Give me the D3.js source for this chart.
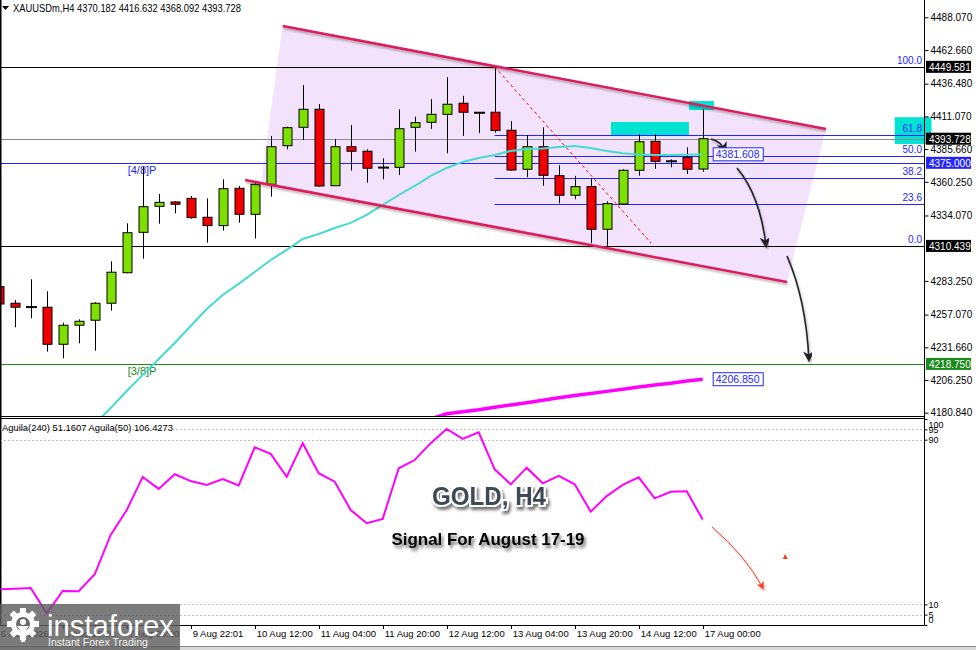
<!DOCTYPE html>
<html>
<head>
<meta charset="utf-8">
<script src="https://cdn.jsdelivr.net/npm/d3@7"></script>
<style>
  body { margin: 0; background: #fff; }
  svg { display: block; font-family: "Liberation Sans", Arial, sans-serif; }
</style>
</head>
<body>
<svg id="chart"></svg>
<script>
const W = 976, H = 650;

// H4 bars, index -1 .. 43 (last bar = 17 Aug 00:00)
const bars = d3.range(-1, 44);
const opens  = [4278.8, 4265.9, 4263.2, 4262.8, 4234.0, 4248.8, 4252.7, 4265.9, 4289.6, 4321.0,
                4341.2, 4344.6, 4347.4, 4332.7, 4326.2, 4355.2, 4335.0, 4358.3, 4388.3, 4402.6,
                4416.6, 4357.2, 4387.5, 4384.0, 4371.0, 4371.5, 4402.6, 4406.5, 4412.7, 4421.3,
                4414.2, 4414.3, 4400.3, 4370.0, 4387.5, 4365.0, 4349.8, 4356.5, 4323.4, 4343.0,
                4369.2, 4391.7, 4375.9, 4379.3, 4370.182];
const highs  = [4281.6, 4268.4, 4284.5, 4275.2, 4250.8, 4253.4, 4266.6, 4298.5, 4328.0, 4372.0,
                4350.8, 4345.3, 4349.2, 4347.4, 4362.2, 4357.0, 4359.5, 4395.9, 4403.1, 4435.5,
                4420.7, 4393.5, 4404.4, 4385.5, 4378.5, 4416.6, 4410.9, 4424.6, 4441.5, 4427.0,
                4414.4, 4449.581, 4407.5, 4396.4, 4402.6, 4373.1, 4364.8, 4363.0, 4345.1, 4370.2,
                4397.4, 4397.4, 4377.7, 4387.1, 4416.632];
const lows   = [4260.7, 4247.2, 4254.2, 4228.3, 4223.1, 4234.8, 4229.0, 4260.1, 4289.2, 4300.5,
                4327.7, 4335.8, 4331.6, 4313.0, 4322.3, 4328.5, 4316.2, 4348.7, 4385.5, 4392.7,
                4356.5, 4357.0, 4368.9, 4359.6, 4362.2, 4365.5, 4383.7, 4401.3, 4382.4, 4395.9,
                4398.0, 4398.4, 4368.9, 4363.8, 4357.2, 4343.5, 4346.7, 4312.5, 4310.439, 4342.2,
                4365.0, 4370.4, 4371.5, 4366.3, 4368.092];
const closes = [4265.3, 4262.8, 4262.9, 4234.0, 4248.8, 4251.9, 4265.9, 4290.0, 4320.7, 4340.9,
                4344.3, 4342.8, 4332.4, 4326.2, 4354.9, 4335.0, 4358.3, 4387.5, 4402.3, 4416.6,
                4357.0, 4387.5, 4384.0, 4370.8, 4371.3, 4401.5, 4406.2, 4412.7, 4420.5, 4414.3,
                4413.9, 4400.1, 4369.4, 4387.5, 4365.3, 4349.8, 4356.5, 4323.4, 4343.3, 4369.2,
                4391.4, 4376.2, 4376.2, 4370.0, 4393.728];

// moving averages (null = not on screen)
const cyanMA = [null, null, null, null, null, null, 4172.0, 4184.5, 4197.7, 4210.2,
                4222.6, 4235.0, 4248.2, 4261.4, 4272.3, 4280.9, 4290.2, 4299.5, 4307.3, 4315.8,
                4319.7, 4324.4, 4328.3, 4334.5, 4342.3, 4350.0, 4357.0, 4364.8, 4371.0, 4375.7,
                4378.8, 4381.1, 4384.2, 4385.7, 4386.1, 4387.3, 4388.1, 4386.5, 4384.2, 4382.4,
                4381.4, 4381.1, 4381.0, 4381.3, 4381.608];
const slowMA = [null, null, null, null, null, null, null, null, null, null,
                null, null, null, null, null, null, null, null, null, null,
                null, null, null, null, null, null, 4174.6, 4176.0, 4180.0, 4181.6,
                4183.1, 4185.0, 4186.9, 4188.6, 4190.5, 4192.5, 4194.2, 4195.8, 4197.4, 4199.1,
                4200.8, 4202.3, 4203.8, 4205.4, 4206.85];

// Aguila(240) oscillator
const aguila = [17.3, 17.6, 17.9, 5.6, 16.5, 16.4, 24.6, 43.7, 55.8, 71.9,
                66.1, 73.2, 69.9, 68.0, 70.9, 67.8, 86.3, 83.1, 72.0, 88.3,
                73.7, 69.6, 55.8, 49.4, 51.5, 76.1, 80.1, 88.3, 95.2, 90.4,
                93.6, 75.6, 68.3, 76.4, 68.8, 72.4, 68.3, 55.0, 62.6, 68.0,
                71.7, 61.5, 64.7, 64.9, 51.16];

// axes
const priceTicks = [4488.070, 4462.660, 4436.480, 4411.070, 4385.660, 4360.250, 4334.070,
                    4283.250, 4257.070, 4231.660, 4206.250, 4180.840];
const indTicks = [100, 95, 90, 10, 5, 0];
const indGrid = [95, 90, 10, 5];
const timeBars = [-1, 3, 7, 11, 15, 19, 23, 27, 31, 35, 39, 43];
const timeLabels = ["6 Aug 2026", "6 Aug 16:00", "7 Aug 08:00", "9 Aug 22:01", "10 Aug 12:00",
                    "11 Aug 04:00", "11 Aug 20:00", "12 Aug 12:00", "13 Aug 04:00", "13 Aug 20:00",
                    "14 Aug 12:00", "17 Aug 00:00"];

// horizontal levels
const levelPrices = [4449.581, 4393.728, 4375.000, 4310.439, 4218.750];
const levelColors = ["#000000", "#8c8c8c", "#2424ff", "#000000", "#1a8a1a"];
const levelBoxColors = ["#000000", "#000000", "#2424ff", "#000000", "#1a8a1a"];

// fibonacci from the 12 Aug high to the 13 Aug low
const fibHigh = 4449.581, fibLow = 4310.439, fibStartBar = 30;
const fibLevels = [100, 61.8, 50, 38.2, 23.6, 0];

// channel and annotations, as [bar, price]
const channelUpper = [[16.75, 4481.3], [50.7, 4401.3]];
const channelLower = [[14.4, 4361.6], [48.27, 4282.4]];
const channelFill = [[16.75, 4481.3], [50.7, 4401.3], [48.27, 4282.4], [15.39, 4359.3]];
const fibTrend = [[30, 4449.581], [39.77, 4312.7]];
const zones = [[37.27, 42.14, 4406.7, 4395.8], [42.14, 43.7, 4423.0, 4416.0], [55.0, 57.3, 4410.4, 4389.6]];
const arrows = [
  [[43.52, 4393.5], [44.14, 4391.9], [44.39, 4384.0]],
  [[45.14, 4371.0], [46.58, 4350.0], [46.96, 4310.4]],
  [[48.27, 4302.6], [49.46, 4268.4], [49.64, 4221.8]]
];
const indArrow = [[43.58, 47.6], [45.64, 34.0], [46.77, 17.9]];
const indMark = [48.14, 33.0];

const x = d3.scaleLinear().domain([-1, 43]).range([-1.3, 702.7]);
const y = d3.scaleLinear().domain([4180.84, 4488.07]).range([412.7, 17.3]);
const yInd = d3.scaleLinear().domain([0, 100]).range([624.9, 419.1]);
const axisX = 924;

const svg = d3.select("#chart").attr("width", W).attr("height", H);
const defs = svg.append("defs");
defs.append("clipPath").attr("id", "clipMain")
  .append("rect").attr("x", 1).attr("y", 0).attr("width", axisX - 1).attr("height", 416);
defs.append("clipPath").attr("id", "clipInd")
  .append("rect").attr("x", 1).attr("y", 419).attr("width", axisX - 1).attr("height", 206);

const shadow = defs.append("filter").attr("id", "shadow")
  .attr("x", "-10%").attr("y", "-30%").attr("width", "120%").attr("height", "180%");
shadow.append("feDropShadow").attr("dx", 1).attr("dy", 2).attr("stdDeviation", 1.2)
  .attr("flood-color", "#000").attr("flood-opacity", 0.3);
const tshadow = defs.append("filter").attr("id", "tshadow")
  .attr("x", "-10%").attr("y", "-30%").attr("width", "130%").attr("height", "190%");
tshadow.append("feDropShadow").attr("dx", 2).attr("dy", 3).attr("stdDeviation", 1.5)
  .attr("flood-color", "#000").attr("flood-opacity", 0.55);

function marker(id, color, size) {
  defs.append("marker").attr("id", id)
    .attr("viewBox", "0 0 10 10").attr("refX", 8).attr("refY", 5)
    .attr("markerWidth", size).attr("markerHeight", size)
    .attr("markerUnits", "userSpaceOnUse").attr("orient", "auto")
    .append("path").attr("d", "M0,0 L10,5 L0,10 L3,5 z").attr("fill", color);
}
marker("headBlack", "#222", 11);
marker("headRed", "#ff3b1f", 8);

// cyan zone that sits over the price scale (drawn first, lines and labels go over it)
svg.append("rect").attr("x", x(zones[2][0])).attr("width", x(zones[2][1]) - x(zones[2][0]))
  .attr("y", y(zones[2][2])).attr("height", y(zones[2][3]) - y(zones[2][2]))
  .attr("fill", "#00e2d2");

// ---------- main panel ----------
const main = svg.append("g").attr("clip-path", "url(#clipMain)");

// channel fill
main.append("path")
  .attr("d", d3.line().x(d => x(d[0])).y(d => y(d[1]))(channelFill) + "Z")
  .attr("fill", "#f3e2fb");

// cyan zones
main.selectAll(".zone").data(zones.slice(0, 2)).enter().append("rect")
  .attr("x", d => x(d[0])).attr("width", d => x(d[1]) - x(d[0]))
  .attr("y", d => y(d[2])).attr("height", d => y(d[3]) - y(d[2]))
  .attr("fill", "#00e2d2");

// horizontal levels
main.selectAll(".level").data(levelPrices).enter().append("line")
  .attr("x1", 0).attr("x2", axisX)
  .attr("y1", d => Math.round(y(d)) + 0.5).attr("y2", d => Math.round(y(d)) + 0.5)
  .attr("stroke", (d, i) => levelColors[i]).attr("stroke-width", 1);

// fib levels
const fibPrice = l => fibLow + (fibHigh - fibLow) * l / 100;
main.selectAll(".fib").data(fibLevels.filter(l => l !== 0 && l !== 100)).enter().append("line")
  .attr("x1", x(fibStartBar)).attr("x2", axisX)
  .attr("y1", d => Math.round(y(fibPrice(d))) + 0.5).attr("y2", d => Math.round(y(fibPrice(d))) + 0.5)
  .attr("stroke", "#2424ff").attr("stroke-width", 1);
main.selectAll(".fibLabel").data(fibLevels).enter().append("text")
  .attr("x", axisX - 2).attr("y", d => y(fibPrice(d)) - 3)
  .attr("text-anchor", "end").attr("font-size", 10).attr("fill", "#2424ff")
  .text(d => d.toFixed(1));

// Murrey labels
main.append("text").attr("x", x(7) + 1).attr("y", y(4375.0) + 11)
  .attr("font-size", 11).attr("fill", "#2424ff").text("[4/8]P");
main.append("text").attr("x", x(7) + 1).attr("y", y(4218.75) + 11)
  .attr("font-size", 11).attr("fill", "#1a8a1a").text("[3/8]P");

// candles
const candles = bars.map((b, i) => ({ b, o: opens[i], h: highs[i], l: lows[i], c: closes[i] }));
const cg = main.append("g");
cg.selectAll(".wick").data(candles).enter().append("line")
  .attr("x1", d => Math.round(x(d.b)) + 0.5).attr("x2", d => Math.round(x(d.b)) + 0.5)
  .attr("y1", d => y(d.h)).attr("y2", d => y(d.l))
  .attr("stroke", "#000").attr("stroke-width", 1);
cg.selectAll(".body").data(candles.filter(d => Math.abs(d.o - d.c) >= 0.8)).enter().append("rect")
  .attr("x", d => Math.round(x(d.b)) - 4).attr("width", 9)
  .attr("y", d => y(Math.max(d.o, d.c))).attr("height", d => y(Math.min(d.o, d.c)) - y(Math.max(d.o, d.c)))
  .attr("fill", d => d.c > d.o ? "#7ee000" : "#f00000")
  .attr("stroke", "#000").attr("stroke-width", 1);
cg.selectAll(".doji").data(candles.filter(d => Math.abs(d.o - d.c) < 0.8)).enter().append("line")
  .attr("x1", d => Math.round(x(d.b)) - 5).attr("x2", d => Math.round(x(d.b)) + 6)
  .attr("y1", d => y(d.c)).attr("y2", d => y(d.c))
  .attr("stroke", "#000").attr("stroke-width", 2);

// moving averages
const maLine = d3.line().defined(d => d[1] !== null).x(d => x(d[0])).y(d => y(d[1]));
main.append("path").datum(bars.map((b, i) => [b, cyanMA[i]]))
  .attr("d", maLine).attr("fill", "none").attr("stroke", "#45dad2").attr("stroke-width", 2);
main.append("path").datum(bars.map((b, i) => [b, slowMA[i]]))
  .attr("d", maLine).attr("fill", "none").attr("stroke", "#ff00ff").attr("stroke-width", 3.5);

// channel lines
const pLine = d3.line().x(d => x(d[0])).y(d => y(d[1]));
[channelUpper, channelLower].forEach(seg => {
  main.append("path").attr("d", pLine(seg))
    .attr("stroke", "#dc1f5c").attr("stroke-width", 2.5).attr("fill", "none")
    .attr("filter", "url(#shadow)");
});
main.append("path").attr("d", pLine(fibTrend))
  .attr("stroke", "#ff0000").attr("stroke-width", 1).attr("stroke-dasharray", "3,3").attr("fill", "none");

// arrows
function curve(pts, sx, sy) {
  const p = d3.path();
  p.moveTo(sx(pts[0][0]), sy(pts[0][1]));
  p.quadraticCurveTo(sx(pts[1][0]), sy(pts[1][1]), sx(pts[2][0]), sy(pts[2][1]));
  return p.toString();
}
arrows.forEach(a => {
  main.append("path").attr("d", curve(a, x, y))
    .attr("stroke", "#222").attr("stroke-width", 1.6).attr("fill", "none")
    .attr("marker-end", "url(#headBlack)").attr("filter", "url(#shadow)");
});

// value tags for MAs
[[cyanMA[cyanMA.length - 1], "4381.608"], [slowMA[slowMA.length - 1], "4206.850"]].forEach(t => {
  const g = main.append("g").attr("transform", `translate(${x(43) + 10},${y(t[0])})`);
  g.append("rect").attr("x", 0.5).attr("y", -6.5).attr("width", 50).attr("height", 13)
    .attr("fill", "#fff").attr("stroke", "#2424ff");
  g.append("text").attr("x", 3).attr("y", 4).attr("font-size", 10.5).attr("fill", "#2424ff").text(t[1]);
});

// header
svg.append("path").attr("d", "M2,6 L9,6 L5.5,10 Z").attr("fill", "#000");
svg.append("text").attr("x", 13).attr("y", 12).attr("font-size", 10.5)
  .attr("textLength", 228).attr("lengthAdjust", "spacingAndGlyphs")
  .text("XAUUSDm,H4  4370.182 4416.632 4368.092 4393.728");

// price axis
const yAxis = svg.append("g").attr("transform", `translate(${axisX + 0.5},0)`)
  .call(d3.axisRight(y).tickValues(priceTicks).tickFormat(d3.format(".3f")).tickSize(4).tickPadding(2));
yAxis.select(".domain").remove();
yAxis.selectAll("text").attr("font-size", 10).attr("font-family", "Liberation Sans, Arial, sans-serif");
yAxis.selectAll("line").attr("stroke", "#000");

const tags = svg.selectAll(".tag").data(levelPrices).enter().append("g")
  .attr("transform", d => `translate(${axisX + 2},${y(d)})`);
tags.append("rect").attr("x", 0).attr("y", -6).attr("width", 45).attr("height", 12)
  .attr("fill", (d, i) => levelBoxColors[i]);
tags.append("text").attr("x", 3).attr("y", 4).attr("font-size", 10).attr("fill", "#fff")
  .text(d => d.toFixed(3));

// panel frames
svg.append("line").attr("x1", 0.5).attr("x2", 0.5).attr("y1", 0).attr("y2", 625).attr("stroke", "#000").attr("stroke-width", 2);
svg.append("line").attr("x1", axisX + 0.5).attr("x2", axisX + 0.5).attr("y1", 0).attr("y2", 625.5).attr("stroke", "#000");
svg.append("line").attr("x1", 0).attr("x2", axisX).attr("y1", 416.5).attr("y2", 416.5).attr("stroke", "#000");
svg.append("line").attr("x1", 0).attr("x2", axisX).attr("y1", 418.5).attr("y2", 418.5).attr("stroke", "#000");
svg.append("line").attr("x1", 0).attr("x2", axisX).attr("y1", 625.5).attr("y2", 625.5).attr("stroke", "#000");

// ---------- indicator panel ----------
const ind = svg.append("g").attr("clip-path", "url(#clipInd)");
ind.selectAll(".grid").data(indGrid).enter().append("line")
  .attr("x1", 0).attr("x2", axisX)
  .attr("y1", d => Math.round(yInd(d)) + 0.5).attr("y2", d => Math.round(yInd(d)) + 0.5)
  .attr("stroke", "#c4c4c4").attr("stroke-dasharray", "2,2");
ind.append("path").datum(bars.map((b, i) => [b, aguila[i]]))
  .attr("d", d3.line().x(d => x(d[0])).y(d => yInd(d[1])))
  .attr("fill", "none").attr("stroke", "#ff00ff").attr("stroke-width", 2);
ind.append("path").attr("d", curve(indArrow, x, yInd))
  .attr("stroke", "#ff3b1f").attr("stroke-width", 1).attr("fill", "none")
  .attr("marker-end", "url(#headRed)").attr("filter", "url(#shadow)");
ind.append("path")
  .attr("d", `M${x(indMark[0])},${yInd(indMark[1]) - 3} l3,5 l-5,0 z`)
  .attr("fill", "#ff3b1f");
ind.append("text").attr("x", 2).attr("y", 431).attr("font-size", 9.5)
  .attr("textLength", 171).attr("lengthAdjust", "spacingAndGlyphs")
  .text("Aguila(240) 51.1607  Aguila(50) 106.4273");

const iAxis = svg.append("g").attr("transform", `translate(${axisX + 0.5},0)`)
  .call(d3.axisRight(yInd).tickValues(indTicks).tickSize(3).tickPadding(1));
iAxis.select(".domain").remove();
iAxis.selectAll("text").attr("font-size", 9).attr("font-family", "Liberation Sans, Arial, sans-serif")
  .attr("dy", d => d === 100 ? "0.9em" : d === 0 ? "-0.3em" : "0.32em");
iAxis.selectAll("line").attr("stroke", "#000");

// title texts
svg.append("text").attr("x", 489).attr("y", 505).attr("text-anchor", "middle")
  .attr("font-size", 25).attr("font-weight", "bold").attr("fill", "#3e4a55")
  .attr("stroke", "#fff").attr("stroke-width", 4).attr("paint-order", "stroke")
  .attr("textLength", 114).attr("lengthAdjust", "spacingAndGlyphs")
  .attr("filter", "url(#tshadow)").text("GOLD, H4");
svg.append("text").attr("x", 488).attr("y", 545).attr("text-anchor", "middle")
  .attr("font-size", 17).attr("font-weight", "bold").attr("fill", "#000")
  .attr("textLength", 193).attr("lengthAdjust", "spacingAndGlyphs")
  .attr("filter", "url(#tshadow)").text("Signal For August 17-19");

// ---------- time axis ----------
const tg = svg.append("g");
tg.selectAll(".tt").data(timeBars).enter().append("line")
  .attr("x1", d => Math.round(x(d)) + 0.5).attr("x2", d => Math.round(x(d)) + 0.5)
  .attr("y1", 625).attr("y2", 629).attr("stroke", "#000");
tg.selectAll(".tl").data(timeBars).enter().append("text")
  .attr("x", d => x(d) + 2).attr("y", 637).attr("font-size", 9.5)
  .text((d, i) => timeLabels[i]);
svg.append("rect").attr("x", 0).attr("y", 646).attr("width", W).attr("height", 4).attr("fill", "#d8d8d8");
svg.append("line").attr("x1", 0).attr("x2", W).attr("y1", 646.5).attr("y2", 646.5).attr("stroke", "#8a8a8a");

// ---------- logo ----------
const logo = svg.append("g");
logo.append("rect").attr("x", 0).attr("y", 604).attr("width", 180).attr("height", 46)
  .attr("fill", "#5e5e5e").attr("opacity", 0.82);
const gear = logo.append("g").attr("transform", "translate(23,624)");
d3.range(8).forEach(i => {
  gear.append("rect").attr("x", -3).attr("y", -16).attr("width", 6).attr("height", 6)
    .attr("fill", "#fff").attr("transform", `rotate(${i * 45})`);
});
gear.append("circle").attr("r", 12).attr("fill", "#fff");
gear.append("circle").attr("r", 7).attr("fill", "#6a6a6a");
gear.append("circle").attr("cx", 0).attr("cy", -2).attr("r", 3).attr("fill", "#fff");
gear.append("path").attr("d", "M-6,2 L6,2 L3,6 L2,18 L-2,18 L-3,6 Z").attr("fill", "#fff");
logo.append("text").attr("x", 47).attr("y", 636).attr("font-size", 30).attr("fill", "#fff")
  .attr("textLength", 127).attr("lengthAdjust", "spacingAndGlyphs").text("instaforex");
logo.append("text").attr("x", 48).attr("y", 646).attr("font-size", 11.5).attr("fill", "#f0f0f0")
  .attr("textLength", 100).attr("lengthAdjust", "spacingAndGlyphs").text("Instant Forex Trading");
</script>
</body>
</html>
